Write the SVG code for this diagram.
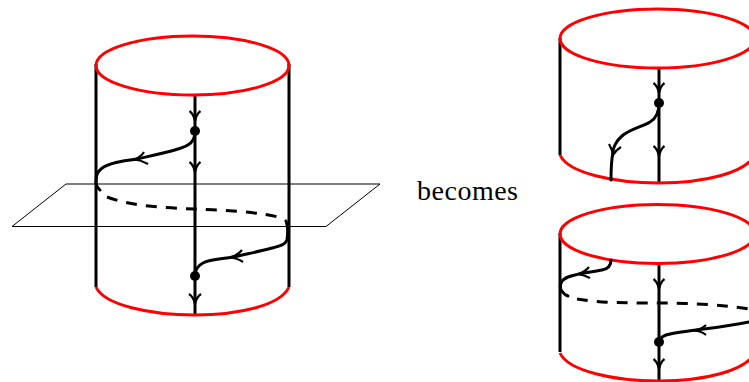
<svg xmlns="http://www.w3.org/2000/svg" width="749" height="382" viewBox="0 0 749 382">
<style>
.r{fill:none;stroke:#ff0000;stroke-width:3}
.k{fill:none;stroke:#000;stroke-width:3}
.c{fill:none;stroke:#000;stroke-width:3;stroke-linecap:round}
.d{fill:none;stroke:#000;stroke-width:3;stroke-dasharray:11 9}
.a{fill:none;stroke:#000;stroke-width:2.200}
.p{fill:none;stroke:#000;stroke-width:1}
</style>
<rect width="749" height="382" fill="#fff"/>
<g id="left-cylinder">
<path class="p" d="M66 184H380L326 226.500H12Z"/>
<path class="k" d="M96 64V287M289 64V287M195 95V315"/>
<ellipse class="r" cx="192.500" cy="65.500" rx="96.500" ry="29.500"/>
<path class="r" d="M96 287C104 305 150 315 195 315C240 315 281 305 289 287"/>
<circle cx="195" cy="131" r="5"/>
<circle cx="195" cy="276" r="5"/>
</g>
<g id="right-top-cylinder">
<path class="k" d="M560 38V155M659 68V183"/>
<ellipse class="r" cx="657.500" cy="38.500" rx="97.500" ry="29.500"/>
<path class="r" d="M560 155C568 173 614 183 659 183C704 183 745 173 755 155"/>
<circle cx="659" cy="103" r="5"/>
</g>
<g id="right-bottom-cylinder">
<path class="k" d="M560 233V352M659 264V381"/>
<ellipse class="r" cx="657.500" cy="234" rx="97.500" ry="29.500"/>
<path class="r" d="M560 353C568 371 614 381 659 381C704 381 745 371 755 353"/>
<circle cx="659" cy="342" r="5"/>
</g>
<g id="label"><text x="417" y="200" font-family="'Liberation Serif',serif" font-size="28" textLength="101">becomes</text></g>
<g id="connectors">
<path class="c" d="M195 131C195 143 188 146 178 149C165 153 150 156 137 159C122 161 108 163 101 169C96 173 96 178 96 183C96 186 98 188 100 190"/>
<path class="d" d="M107 197C130 206 165 208 195 209C225 210 258 212 278 217"/>
<path class="c" d="M286 221C288 226 288 233 287 240C285 245 280 246 272 248C258 252 245 254 233 257C222 259 210 259 203 263C197 266 195 271 195 276"/>
<path class="c" d="M659 103C659 112 657 118 650 122C642 127 630 129 622 136C616 141 613 148 613 152C611 162 611 172 611 180"/>
<path class="c" d="M611 260C611 266 608 269 602 270C592 272 578 273 568 277C561 280 559 285 561 290C563 293 565 295 568 296"/>
<path class="d" d="M577 299C600 303 630 303 659 303C690 303 725 305 749 309"/>
<path class="c" d="M749 322C730 326 712 328 696 330C682 332 672 333 666 335C661 337 659 339 659 342"/>
<path class="a" d="M189.500 111Q193.500 114 195 121Q196.500 114 200.500 111M189.500 162Q193.500 165 195 172Q196.500 165 200.500 162M189 294Q193.500 297 195 304Q196.500 297 201 294M144 152Q141 157 134 159.500Q141 160 148 164M242 250Q238 255 230 257.500Q237 258 243 262"/>
<path class="a" d="M653.500 83Q657.500 86 659 93Q660.500 86 664.500 83M653.500 146Q657.500 149 659 156Q660.500 149 664.500 146M609 144Q612 149 613 155Q616 150 621 147"/>
<path class="a" d="M653.500 279Q657.500 282 659 289Q660.500 282 664.500 279M653.500 359Q657.500 362 659 369Q660.500 362 664.500 359M589 267Q585 272 578 274Q584 275 590 278M706 325Q702 329 694 330.500Q701 331 706 335"/>
</g>
</svg>
